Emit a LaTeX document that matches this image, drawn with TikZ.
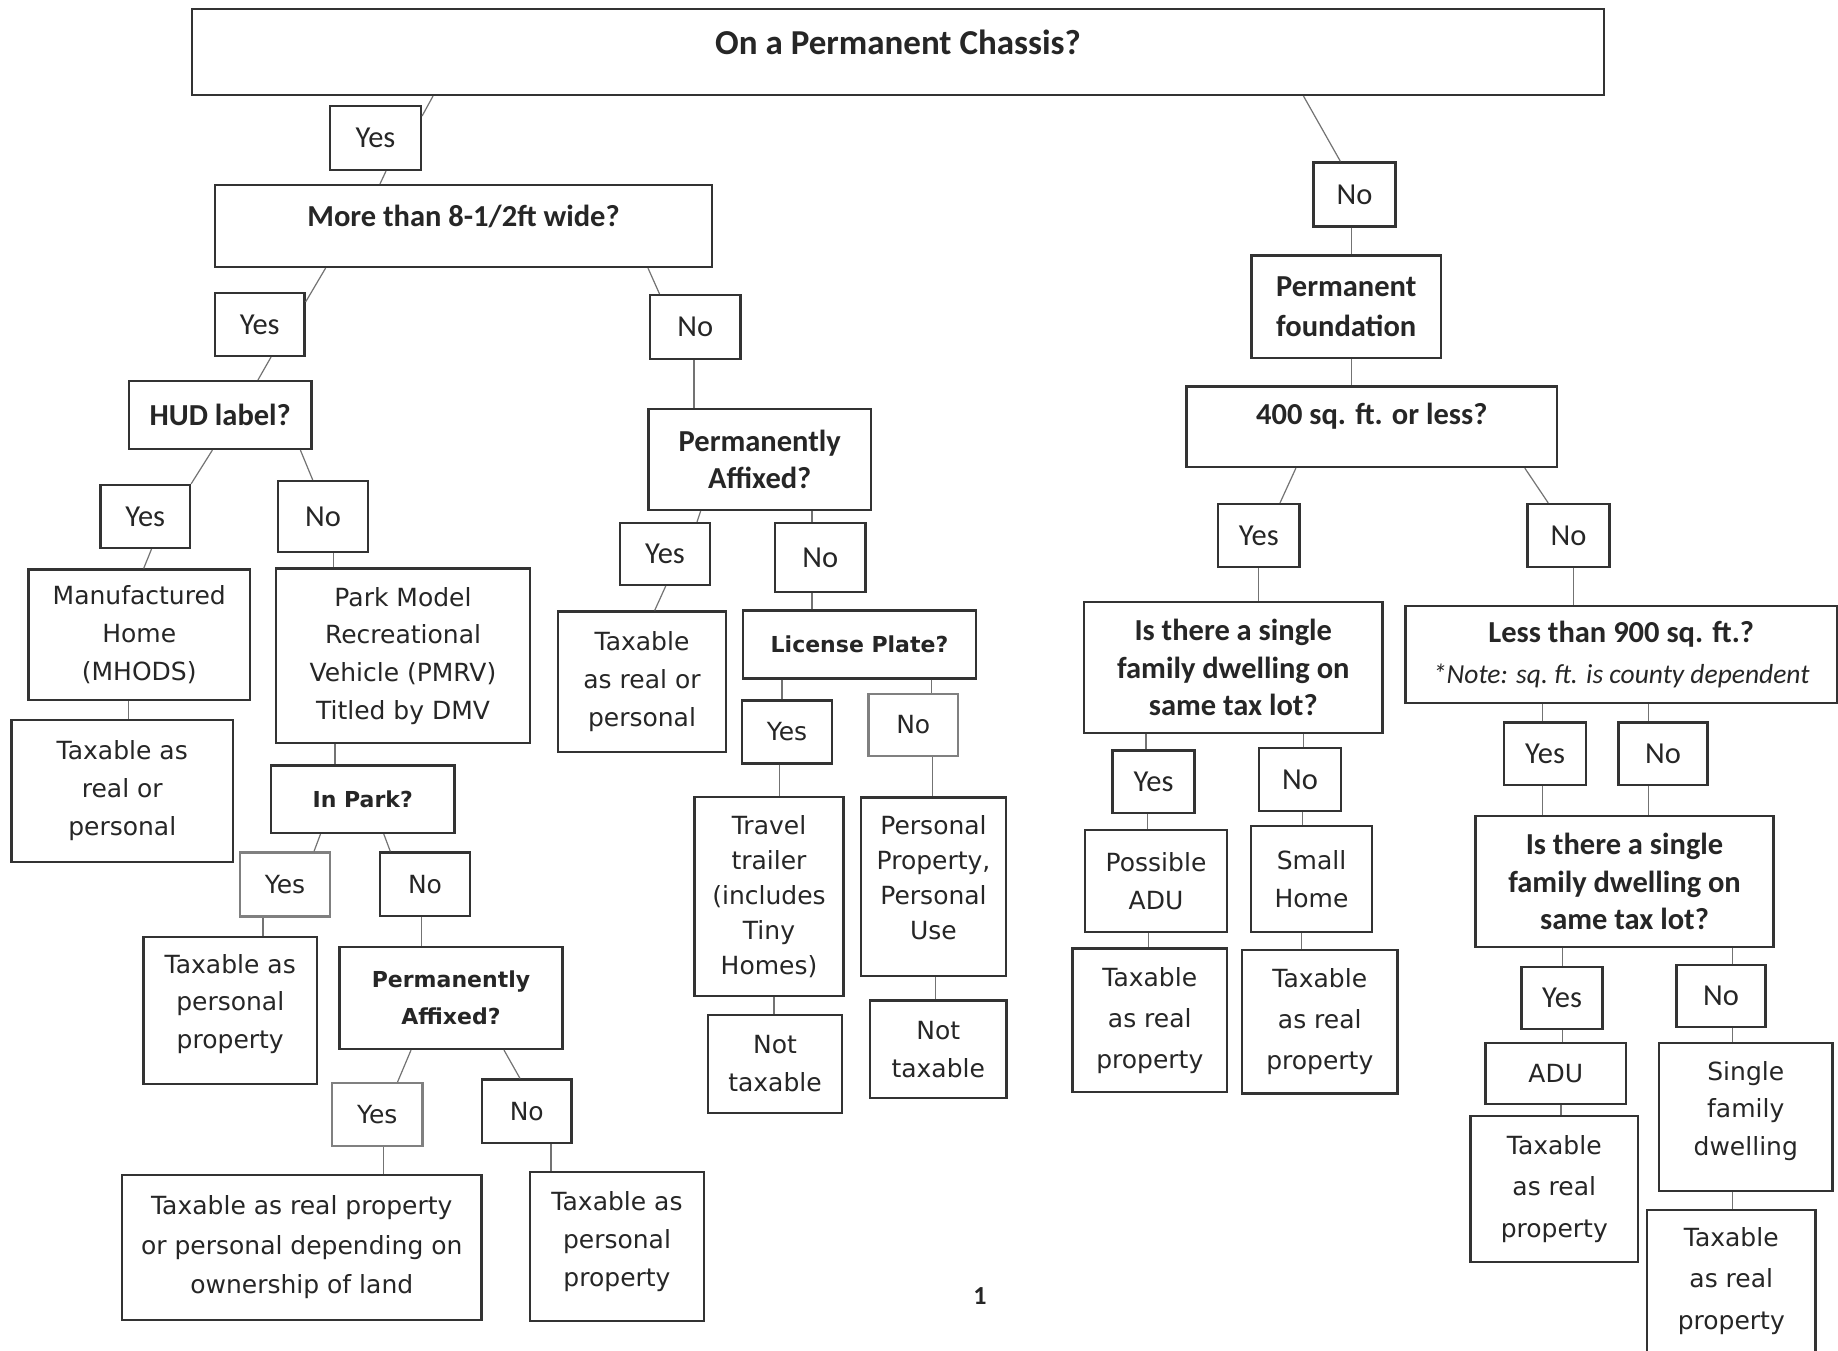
\documentclass[tikz,border=0pt]{standalone}
\usepackage{fontspec}
\newfontfamily\calfont{Carlito}
\newfontfamily\verfont{DejaVu Sans}
\begin{document}
\begin{tikzpicture}[x=1pt,y=-1pt,
  bx/.style={draw=black!80, line width=2.2pt, inner sep=0pt, align=center, text=black!85},
  lt/.style={draw=black!50},
  tx/.style={inner sep=0pt, align=center, text=black!85},
  sz/.style 2 args={minimum width=#1pt, minimum height=#2pt},
  cr/.style={font=\calfont\fontsize{30.5}{#1}\selectfont}, cr/.default=37.5,
  cb/.style={font=\calfont\bfseries\fontsize{30.5}{#1}\selectfont}, cb/.default=37.5,
  ttl/.style={font=\calfont\bfseries\fontsize{35}{42}\selectfont},
  vr/.style={font=\verfont\fontsize{25}{#1}\selectfont}, vr/.default=38,
  vb/.style={font=\verfont\bfseries\fontsize{22}{#1}\selectfont}, vb/.default=36.5,
  ln/.style={draw=black!55, line width=1.2pt},
]
\useasboundingbox (0,0) rectangle (1838,1351);
\fill[white] (0,0) rectangle (1838,1351);

% ---- left / middle ----
\node[bx,sz={1412}{86}] (chassis) at (898,52) {};
\node[tx,ttl] (chassis-t) at (898,42) {On a Permanent Chassis?};
\node[bx,cr,sz={91}{64}] (yes1) at (375.5,138) {Yes};
\node[bx,sz={497}{82}] (more) at (463.5,226) {};
\node[tx,cb] (more-t) at (463.5,216) {More than 8-1/2ft wide?};
\node[bx,cr,sz={89.5}{63}] (yes2) at (259.75,324.5) {Yes};
\node[bx,cr,sz={90.5}{64}] (no2) at (695.25,327) {No};
\node[bx,cb,sz={182.5}{68}] (hud) at (220.25,415) {HUD label?};
\node[bx,cb=36.8,sz={222.5}{101}] (paff1) at (759.75,459.5) {Permanently\\Affixed?};
\node[bx,cr,sz={89.5}{63}] (yes3) at (145.25,516.5) {Yes};
\node[bx,cr,sz={90}{71}] (no3) at (323,516.5) {No};
\node[bx,cr,sz={90}{62}] (yes4) at (665,554) {Yes};
\node[bx,cr,sz={90.5}{69}] (no4) at (820.25,557.5) {No};
\node[bx,vr,sz={221.5}{130.5}] (manuf) at (139.25,634.75) {Manufactured\\Home\\(MHODS)};
\node[bx,vr=37.6,sz={254}{174.5}] (pmrv) at (403,655.75) {Park Model\\Recreational\\Vehicle (PMRV)\\Titled by DMV};
\node[bx,vr,sz={221.5}{142}] (tax1) at (122.25,791) {Taxable as\\real or\\personal};
\node[bx,vb,sz={183.5}{67.5}] (inpark) at (362.75,799.25) {In Park?};
\node[bx,lt,vr,sz={90}{64}] (yes6) at (285,884.5) {Yes};
\node[bx,vr,sz={90}{63.5}] (no6) at (425,884.25) {No};
\node[bx,sz={173.5}{147}] (taxp1) at (230.25,1010.5) {};
\node[tx,vr=37.5] (taxp1-t) at (230.25,1004) {Taxable as\\personal\\property};
\node[bx,vb,sz={223}{102}] (paff2) at (451,998) {Permanently\\Affixed?};
\node[bx,lt,vr,sz={90.5}{63}] (yes7) at (377.25,1114.5) {Yes};
\node[bx,vr,sz={89.5}{63.5}] (no7) at (526.75,1111.25) {No};
\node[bx,vr=39.5,sz={359.5}{145}] (taxrpd) at (301.75,1247.5) {Taxable as real property\\or personal depending on\\ownership of land};
\node[bx,sz={174}{149}] (taxp2) at (617,1246.5) {};
\node[tx,vr=38.4] (taxp2-t) at (617,1241.5) {Taxable as\\personal\\property};
\node[bx,vr=37.7,sz={168}{140.5}] (taxrop2) at (642,681.75) {Taxable\\as real or\\personal};
\node[bx,vb,sz={233}{68}] (lic) at (859.5,644.5) {License Plate?};
\node[bx,vr,sz={90}{63}] (yes8) at (787,732) {Yes};
\node[bx,lt,vr,sz={89.5}{62}] (no8) at (913.25,725) {No};
\node[bx,vr=35,sz={149}{199}] (travel) at (769,896.5) {Travel\\trailer\\(includes\\Tiny\\Homes)};
\node[bx,sz={145}{178.5}] (persprop) at (933.5,886.75) {};
\node[tx,vr=35] (persprop-t) at (933.5,878) {Personal\\Property,\\Personal\\Use};
\node[bx,vr,sz={134}{98}] (nt1) at (775,1064) {Not\\taxable};
\node[bx,vr,sz={136.5}{97.5}] (nt2) at (938.25,1049.25) {Not\\taxable};

% ---- right ----
\node[bx,cr,sz={82}{64}] (no1) at (1354.5,194.5) {No};
\node[bx,cb=40,sz={189.5}{102.5}] (pf) at (1346.25,306.75) {Permanent\\foundation};
\node[bx,sz={370.5}{80.5}] (q400) at (1371.75,426.75) {};
\node[tx,cb] (q400-t) at (1371.75,416) {400 sq. ft. or less?};
\node[bx,cr,sz={81.5}{63}] (yes5) at (1258.75,535.5) {Yes};
\node[bx,cr,sz={82}{63}] (no5) at (1568.5,535.5) {No};
\node[bx,cb,sz={298.5}{131}] (is1) at (1233.25,667.5) {Is there a single\\family dwelling on\\same tax lot?};
\node[bx,cb,sz={431.5}{97}] (less) at (1621.25,654.5) {Less than 900 sq. ft.?\\[4pt]{\mdseries\itshape\fontsize{27.5}{33}\selectfont *Note: sq.~ft. is county dependent}};
\node[bx,cr,sz={82}{62.5}] (yes9) at (1153.5,781.75) {Yes};
\node[bx,cr,sz={82}{63}] (no9) at (1300,779.5) {No};
\node[bx,cr,sz={82}{62.5}] (yes10) at (1545,753.75) {Yes};
\node[bx,cr,sz={89}{62.5}] (no10) at (1663,753.75) {No};
\node[bx,vr=37.5,sz={142}{102}] (possadu) at (1156,881) {Possible\\ADU};
\node[bx,vr=38.5,sz={121}{106}] (small) at (1311.5,879) {Small\\Home};
\node[bx,cb,sz={298}{131}] (is2) at (1624.5,881.5) {Is there a single\\family dwelling on\\same tax lot?};
\node[bx,vr=41,sz={154.5}{143.5}] (trp1) at (1149.75,1020.25) {Taxable\\as real\\property};
\node[bx,vr=41,sz={155.5}{143.5}] (trp2) at (1319.75,1021.75) {Taxable\\as real\\property};
\node[bx,cr,sz={81}{62}] (yes11) at (1562,998) {Yes};
\node[bx,cr,sz={89}{62}] (no11) at (1721,996) {No};
\node[bx,vr,sz={140.5}{61}] (adu) at (1555.75,1073.5) {ADU};
\node[bx,sz={173.5}{148}] (sfd) at (1745.75,1117) {};
\node[tx,vr=37.5] (sfd-t) at (1745.75,1110.6) {Single\\family\\dwelling};
\node[bx,vr=41.5,sz={167.5}{146}] (trp3) at (1554.25,1189) {Taxable\\as real\\property};
\node[bx,sz={168.5}{146}] (trp4) at (1731.25,1283) {};
\node[tx,vr=41.5] (trp4-t) at (1731.25,1281) {Taxable\\as real\\property};
\node[tx,font=\calfont\bfseries\fontsize{26}{30}\selectfont] (pg) at (980,1296) {1};

% ---- connectors ----
\draw[ln] (chassis.south -| 433,0) -- (yes1.east |- 0,116);
\draw[ln] (yes1.south -| 386,0) -- (more.north -| 380,0);
\draw[ln] (more.south -| 325.6,0) -- (yes2.east |- 0,302);
\draw[ln] (more.south -| 648,0) -- (no2.north -| 659.5,0);
\draw[ln] (yes2.south -| 271,0) -- (hud.north -| 258,0);
\draw[ln] (no2.south -| 694,0) -- (paff1.north -| 694,0);
\draw[ln] (hud.south -| 212.4,0) -- (yes3.north east);
\draw[ln] (hud.south -| 300.4,0) -- (no3.north -| 312.7,0);
\draw[ln] (paff1.south -| 700.6,0) -- (yes4.north -| 697,0);
\draw[ln] (paff1.south -| 812,0) -- (no4.north -| 812,0);
\draw[ln] (yes3.south -| 151.5,0) -- (manuf.north -| 143.7,0);
\draw[ln] (no3.south -| 333.8,0) -- (pmrv.north -| 333.8,0);
\draw[ln] (manuf.south -| 128.6,0) -- (tax1.north -| 128.6,0);
\draw[ln] (pmrv.south -| 335,0) -- (inpark.north -| 335,0);
\draw[ln] (inpark.south -| 320.5,0) -- (yes6.north -| 314,0);
\draw[ln] (inpark.south -| 383.8,0) -- (no6.north -| 390.3,0);
\draw[ln] (yes6.south -| 263,0) -- (taxp1.north -| 263,0);
\draw[ln] (no6.south -| 421.5,0) -- (paff2.north -| 421.5,0);
\draw[ln] (paff2.south -| 411,0) -- (yes7.north -| 397.6,0);
\draw[ln] (paff2.south -| 504,0) -- (no7.north -| 520,0);
\draw[ln] (yes7.south -| 383.8,0) -- (taxrpd.north -| 383.8,0);
\draw[ln] (no7.south -| 551,0) -- (taxp2.north -| 551,0);
\draw[ln] (yes4.south -| 665.7,0) -- (taxrop2.north -| 654.7,0);
\draw[ln] (no4.south -| 812,0) -- (lic.north -| 812,0);
\draw[ln] (lic.south -| 782,0) -- (yes8.north -| 782,0);
\draw[ln] (lic.south -| 931.5,0) -- (no8.north -| 931.5,0);
\draw[ln] (yes8.south -| 779.6,0) -- (travel.north -| 779.6,0);
\draw[ln] (no8.south -| 932.2,0) -- (persprop.north -| 932.2,0);
\draw[ln] (travel.south -| 774,0) -- (nt1.north -| 774,0);
\draw[ln] (persprop.south -| 935.4,0) -- (nt2.north -| 935.4,0);

\draw[ln] (chassis.south -| 1303.5,0) -- (no1.north -| 1340.4,0);
\draw[ln] (no1.south -| 1351.5,0) -- (pf.north -| 1351.5,0);
\draw[ln] (pf.south -| 1351.5,0) -- (q400.north -| 1351.5,0);
\draw[ln] (q400.south -| 1295.9,0) -- (yes5.north -| 1280,0);
\draw[ln] (q400.south -| 1524.8,0) -- (no5.north -| 1548.2,0);
\draw[ln] (yes5.south -| 1258.5,0) -- (is1.north -| 1258.5,0);
\draw[ln] (no5.south -| 1573.6,0) -- (less.north -| 1573.6,0);
\draw[ln] (is1.south -| 1146,0) -- (yes9.north -| 1146,0);
\draw[ln] (is1.south -| 1303.2,0) -- (no9.north -| 1303.2,0);
\draw[ln] (less.south -| 1542.4,0) -- (yes10.north -| 1542.4,0);
\draw[ln] (less.south -| 1648.6,0) -- (no10.north -| 1648.6,0);
\draw[ln] (yes9.south -| 1147.3,0) -- (possadu.north -| 1147.3,0);
\draw[ln] (no9.south -| 1302.2,0) -- (small.north -| 1302.2,0);
\draw[ln] (yes10.south -| 1542.4,0) -- (is2.north -| 1542.4,0);
\draw[ln] (no10.south -| 1648.6,0) -- (is2.north -| 1648.6,0);
\draw[ln] (possadu.south -| 1148.3,0) -- (trp1.north -| 1148.3,0);
\draw[ln] (small.south -| 1301.7,0) -- (trp2.north -| 1301.7,0);
\draw[ln] (is2.south -| 1562.7,0) -- (yes11.north -| 1562.7,0);
\draw[ln] (is2.south -| 1732.5,0) -- (no11.north -| 1732.5,0);
\draw[ln] (yes11.south -| 1562.2,0) -- (adu.north -| 1562.2,0);
\draw[ln] (no11.south -| 1732.5,0) -- (sfd.north -| 1732.5,0);
\draw[ln] (adu.south -| 1561,0) -- (trp3.north -| 1561,0);
\draw[ln] (sfd.south -| 1732.5,0) -- (trp4.north -| 1732.5,0);
\end{tikzpicture}
\end{document}
